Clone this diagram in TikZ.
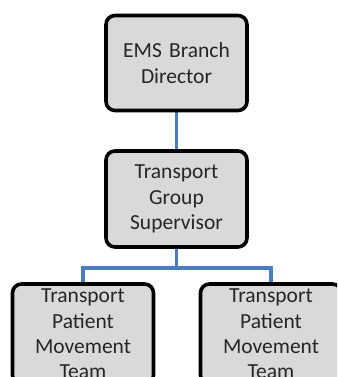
\documentclass[tikz,border=0pt]{standalone}
\usepackage{fontspec}
\setmainfont{Carlito}
\usetikzlibrary{backgrounds}
\definecolor{boxfill}{HTML}{D9D9D9}
\definecolor{linkblue}{HTML}{4A7EBB}
\begin{document}
\begin{tikzpicture}[x=1pt,y=-1pt,
  orgbox/.style={draw=black,line width=3.6pt,rounded corners=9pt,fill=boxfill,
    minimum width=141pt,text width=138pt,align=center,inner sep=0pt,
    font=\fontsize{21.5}{25.3}\selectfont,text=black!85},
  link/.style={draw=linkblue,line width=3.5pt}]
\useasboundingbox (0,0) rectangle (337,377);
\clip (0,0) rectangle (337,377);
\node[orgbox,minimum height=95pt] (ems) at (176.5,63) {EMS Branch\\Director};
\node[orgbox,minimum height=96pt] (tgs) at (176.5,199) {Transport\\Group\\Supervisor};
\node[orgbox,minimum height=100pt] (tpl) at (83,334) {Transport\\Patient\\Movement\\Team};
\node[orgbox,minimum height=100pt] (tpr) at (271,334) {Transport\\Patient\\Movement\\Team};
\coordinate (bus) at (176.5,268);
\begin{scope}[on background layer]
\draw[link] (ems.south) -- (tgs.north);
\draw[link] (tgs.south) -- (bus);
\draw[link] (bus) -| (tpl.north);
\draw[link] (bus) -| (tpr.north);
\end{scope}
\end{tikzpicture}
\end{document}
